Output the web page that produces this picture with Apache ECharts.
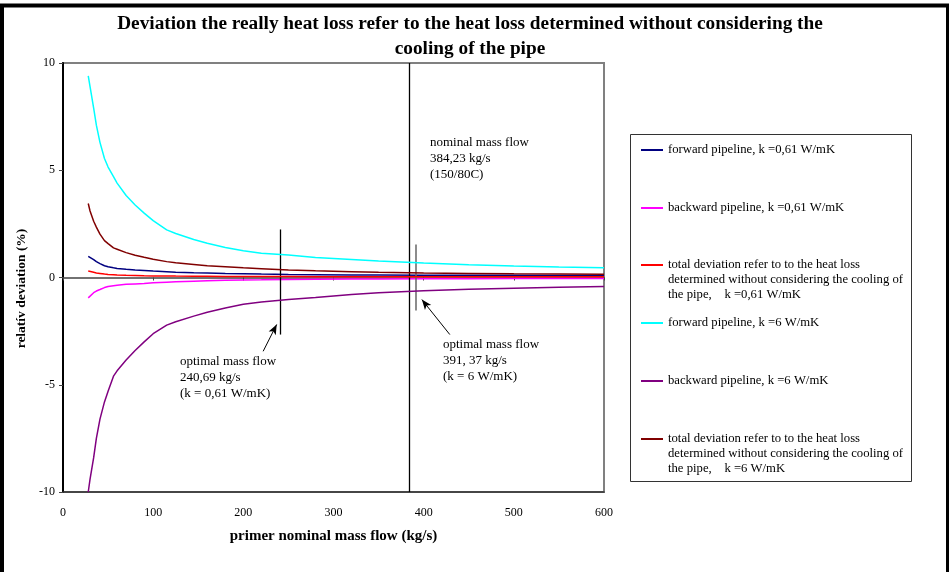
<!DOCTYPE html>
<html>
<head>
<meta charset="utf-8">
<script src="https://cdn.jsdelivr.net/npm/echarts@6/dist/echarts.min.js"></script>
<style>
  html, body { margin: 0; padding: 0; background: #fff; }
  #chart { width: 949px; height: 572px; }
</style>
</head>
<body>
<div id="chart"></div>
<script>
// Primary nominal mass flow (kg/s) at which the deviations were evaluated
var massFlow = [28, 30, 34, 37, 41, 46, 50, 56, 60, 70, 80, 90, 100, 115, 125, 145, 160, 180, 200, 220, 250, 280, 320, 350, 400, 450, 500, 550, 600];

// Relative deviation (%) for each pipeline / heat transfer coefficient
var fwd061 = [0.99, 0.92, 0.83, 0.74, 0.65, 0.55, 0.50, 0.45, 0.42, 0.38, 0.35, 0.33, 0.30, 0.27, 0.25, 0.22, 0.21, 0.19, 0.18, 0.16, 0.14, 0.13, 0.12, 0.12, 0.11, 0.10, 0.10, 0.09, 0.09];
var bwd061 = [-0.95, -0.88, -0.71, -0.63, -0.56, -0.47, -0.42, -0.38, -0.36, -0.32, -0.30, -0.28, -0.25, -0.22, -0.20, -0.17, -0.15, -0.13, -0.12, -0.11, -0.09, -0.08, -0.075, -0.07, -0.06, -0.055, -0.05, -0.05, -0.05];
var tot061 = [0.30, 0.28, 0.24, 0.21, 0.19, 0.16, 0.14, 0.13, 0.12, 0.10, 0.09, 0.08, 0.075, 0.07, 0.065, 0.06, 0.055, 0.05, 0.05, 0.045, 0.045, 0.04, 0.04, 0.04, 0.035, 0.035, 0.03, 0.03, 0.03];
var fwd6 = [9.4, 8.9, 7.9, 7.1, 6.3, 5.55, 5.15, 4.7, 4.4, 3.82, 3.38, 3.0, 2.65, 2.22, 2.05, 1.77, 1.6, 1.4, 1.25, 1.13, 1.05, 0.93, 0.84, 0.77, 0.68, 0.60, 0.54, 0.49, 0.45];
var bwd6 = [-10.0, -9.4, -8.4, -7.5, -6.6, -5.8, -5.3, -4.6, -4.35, -3.85, -3.4, -3.0, -2.62, -2.22, -2.06, -1.8, -1.62, -1.42, -1.25, -1.14, -1.03, -0.93, -0.79, -0.71, -0.62, -0.55, -0.50, -0.45, -0.42];
var tot6 = [3.45, 3.1, 2.62, 2.35, 2.02, 1.72, 1.58, 1.38, 1.32, 1.16, 1.04, 0.94, 0.85, 0.74, 0.69, 0.61, 0.55, 0.50, 0.45, 0.41, 0.35, 0.31, 0.27, 0.24, 0.21, 0.19, 0.17, 0.16, 0.15];

var seriesNames = [
  'forward pipeline, k =0,61 W/mK',
  'backward pipeline, k =0,61 W/mK',
  'total deviation refer to to the heat loss\ndetermined without considering the cooling of\nthe pipe,    k =0,61 W/mK',
  'forward pipeline, k =6 W/mK',
  'backward pipeline, k =6 W/mK',
  'total deviation refer to to the heat loss\ndetermined without considering the cooling of\nthe pipe,    k =6 W/mK'
];
var seriesValues = [fwd061, bwd061, tot061, fwd6, bwd6, tot6];
var seriesColors = ['#000080', '#ff00ff', '#ff0000', '#00ffff', '#800080', '#800000'];

// Axis ticks
var xTicks = { min: 0, max: 600, interval: 100 };
var yTicks = { min: -10, max: 10, interval: 5 };

// Reference mass flows (kg/s) and the extent of their marker bars (%)
var nominalFlow = 384.23;
var optimalFlow061 = 240.69;
var optimalFlow6 = 391.37;
var optimalBar061 = [2.24, -2.66];
var optimalBar6 = [1.54, -1.54];
// Arrow pointers [from flow, from dev, to flow, to dev]
var arrow061 = [222, -3.44, 237, -2.19];
var arrow6 = [429, -2.66, 398, -1.03];

var serif = 'Liberation Serif, Times New Roman, serif';

function pairs(xs, ys) {
  return xs.map(function (x, i) { return [x, ys[i]]; });
}

var series = seriesValues.map(function (vals, i) {
  return {
    name: seriesNames[i],
    type: 'line',
    xAxisIndex: 0,
    yAxisIndex: 0,
    data: pairs(massFlow, vals),
    color: seriesColors[i],
    showSymbol: false,
    symbol: 'none',
    smooth: false,
    lineStyle: { color: seriesColors[i], width: 1.5 },
    z: 3 + i
  };
});

// Reference lines and pointer arrows
series.push({
  name: 'reference',
  type: 'line',
  data: [],
  silent: true,
  z: 10,
  markLine: {
    silent: true,
    animation: false,
    symbol: 'none',
    label: { show: false },
    lineStyle: { color: '#000', width: 1.3, type: 'solid' },
    data: [
      [{ coord: [nominalFlow, yTicks.max] }, { coord: [nominalFlow, yTicks.min] }],
      [{ coord: [optimalFlow061, optimalBar061[0]] }, { coord: [optimalFlow061, optimalBar061[1]] }],
      [{ coord: [optimalFlow6, optimalBar6[0]] }, { coord: [optimalFlow6, optimalBar6[1]], lineStyle: { color: '#666', width: 1.5 } }],
      [{ coord: [arrow061[0], arrow061[1]], symbol: 'none' },
       { coord: [arrow061[2], arrow061[3]], symbol: 'arrow', symbolSize: [6, 10], lineStyle: { width: 1 } }],
      [{ coord: [arrow6[0], arrow6[1]], symbol: 'none' },
       { coord: [arrow6[2], arrow6[3]], symbol: 'arrow', symbolSize: [6, 10], lineStyle: { width: 1 } }]
    ]
  }
});

// One legend block per entry, stacked inside the framed box on the right.
// Multi-line entries get two leading blank lines so the swatch sits on the first text line.
var legendIconY = [150, 208, 265, 323, 381, 439];
var legends = seriesNames.map(function (name, i) {
  var multi = name.indexOf('\n') >= 0;
  return {
    data: [name],
    orient: 'vertical',
    left: 641,
    top: legendIconY[i] - (multi ? 37.5 : 7.5),
    padding: 0,
    itemWidth: 22,
    itemHeight: 2,
    icon: 'rect',
    selectedMode: false,
    formatter: multi ? function (n) { return '\n\n' + n; } : '{name}',
    textStyle: {
      fontFamily: serif,
      fontSize: 12.7,
      color: '#000',
      lineHeight: 15
    }
  };
});

var chart = echarts.init(document.getElementById('chart'), null, { renderer: 'canvas' });
chart.setOption({
  animation: false,
  backgroundColor: '#fff',
  textStyle: { fontFamily: serif },
  title: {
    text: 'Deviation the really heat loss refer to the heat loss determined without considering the\ncooling of the pipe',
    left: 470,
    top: 12,
    padding: 0,
    textAlign: 'center',
    textStyle: { fontFamily: serif, fontWeight: 'bold', fontSize: 19.3, lineHeight: 25, color: '#000' }
  },
  legend: legends,
  grid: {
    left: 63, right: 345, top: 63, bottom: 80,
    show: true, borderColor: '#808080', borderWidth: 2, backgroundColor: 'transparent'
  },
  xAxis: [
    {
      type: 'value', position: 'bottom',
      min: xTicks.min, max: xTicks.max, interval: xTicks.interval,
      name: 'primer nominal mass flow (kg/s)',
      nameLocation: 'middle', nameGap: 37,
      nameTextStyle: { fontFamily: serif, fontWeight: 'bold', fontSize: 15, color: '#000' },
      axisLine: { show: true, onZero: false, lineStyle: { color: '#333', width: 1.5 } },
      axisTick: { show: false },
      axisLabel: { margin: 15, fontFamily: serif, fontSize: 12, color: '#000' },
      splitLine: { show: false }
    },
    {
      type: 'value', position: 'bottom',
      min: xTicks.min, max: xTicks.max, interval: xTicks.interval,
      axisLine: { show: true, onZero: true, lineStyle: { color: '#444', width: 1.5 } },
      axisTick: { show: true, length: 3, lineStyle: { color: '#444', width: 1 } },
      axisLabel: { show: false },
      splitLine: { show: false }
    }
  ],
  yAxis: [
    {
      type: 'value', position: 'left',
      min: yTicks.min, max: yTicks.max, interval: yTicks.interval,
      name: 'relatív deviation (%)',
      nameLocation: 'middle', nameGap: 31, nameRotate: 90,
      nameTextStyle: { fontFamily: serif, fontWeight: 'bold', fontSize: 13.5, color: '#000', padding: [0, 22, 0, 0] },
      axisLine: { show: true, lineStyle: { color: '#808080', width: 2 } },
      axisTick: { show: true, length: 4, lineStyle: { color: '#444' } },
      axisLabel: { margin: 8, fontFamily: serif, fontSize: 12, color: '#000' },
      splitLine: { show: false }
    },
    {
      type: 'value', position: 'right',
      min: yTicks.min, max: yTicks.max, interval: yTicks.interval,
      axisLine: { show: true, lineStyle: { color: '#000', width: 2 } },
      axisTick: { show: false },
      axisLabel: { show: false },
      splitLine: { show: false }
    }
  ],
  series: series,
  graphic: [
    {
      type: 'rect', silent: true, z: 100,
      shape: { x: 2, y: 5.5, width: 946, height: 700 },
      style: { fill: 'none', stroke: '#000', lineWidth: 4 }
    },
    {
      type: 'rect', silent: true, z: 1,
      shape: { x: 630.5, y: 134.5, width: 281, height: 347 },
      style: { fill: 'none', stroke: '#333', lineWidth: 1 }
    },
    {
      type: 'text', silent: true, left: 430, top: 135,
      style: { text: 'nominal mass flow\n384,23 kg/s\n(150/80C)', font: '13px ' + serif, lineHeight: 15.7, fill: '#000' }
    },
    {
      type: 'text', silent: true, left: 180, top: 354,
      style: { text: 'optimal mass flow\n240,69 kg/s\n(k = 0,61 W/mK)', font: '13px ' + serif, lineHeight: 15.7, fill: '#000' }
    },
    {
      type: 'text', silent: true, left: 443, top: 337,
      style: { text: 'optimal mass flow\n391, 37 kg/s\n(k = 6 W/mK)', font: '13px ' + serif, lineHeight: 15.7, fill: '#000' }
    }
  ]
});
</script>
</body>
</html>
